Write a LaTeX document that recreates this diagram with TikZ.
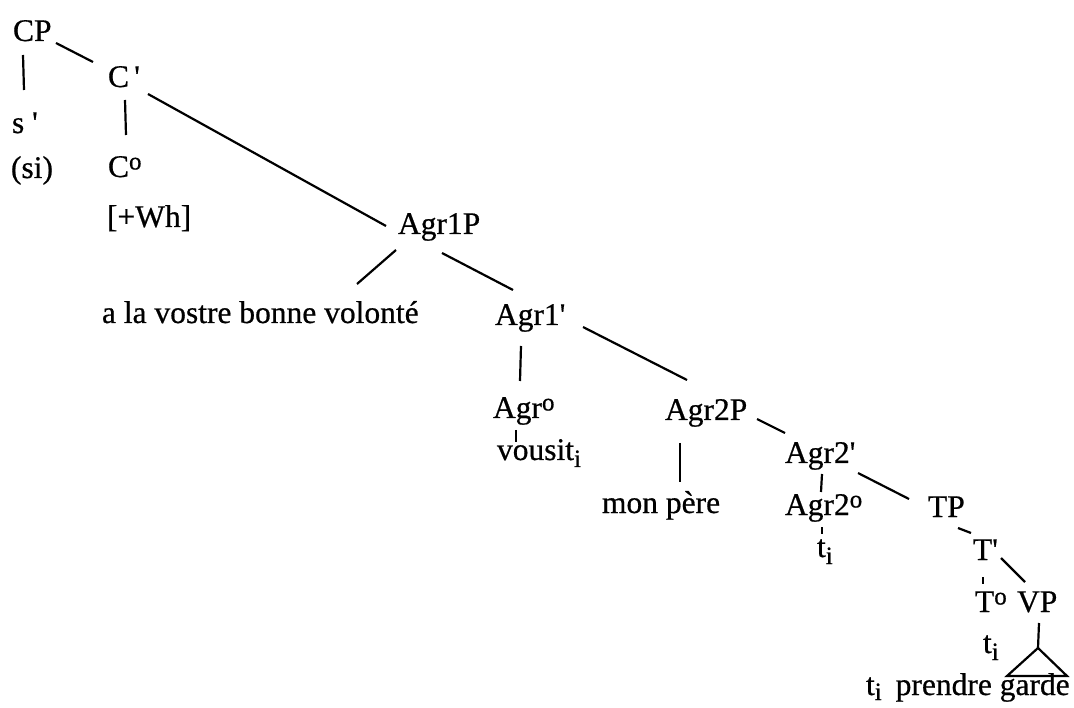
\documentclass[tikz,border=0pt]{standalone}
\usepackage{fontspec}
\setmainfont{Liberation Serif}
\newfontfamily\treefont{Liberation Serif}[Ligatures=NoCommon,FakeBold=0.6]
\newcommand\edgeAB[6]{\draw ([xshift=#2pt,yshift=#3pt]#1.base west) -- ([xshift=#5pt,yshift=#6pt]#4.base west);}
\newcommand\supo{\raisebox{7.5pt}{\fontsize{25}{25}\selectfont o}}
\newcommand\subi{\raisebox{-7pt}{\fontsize{25}{25}\selectfont i}}
\newcommand\subiB{\raisebox{-5pt}{\fontsize{25}{25}\selectfont i}}
\newcommand\apos{\textquotesingle}
\begin{document}
\begin{tikzpicture}[x=1pt,y=-1pt,
  lbl/.style={anchor=base west,inner sep=0pt,outer sep=0pt,font=\treefont\fontsize{31.5}{36}\selectfont},
  every path/.style={line width=2.2pt}]
\useasboundingbox (0,0) rectangle (1074,708);
\fill[white] (0,0) rectangle (1074,708);
% nodes
\node[lbl] (cp) at (13,41) {CP};
\node[lbl] (s) at (12,133) {s \apos};
\node[lbl] (si) at (11,178) {(si)};
\node[lbl] (cbar) at (108,87) {C\,\apos};
\node[lbl] (c0) at (108,177) {C\supo};
\node[lbl] (wh) at (107,227) {[+Wh]};
\node[lbl] (agr1p) at (398,234) {Agr1P};
\node[lbl] (bonne) at (102,323) {a la vostre bonne volonté};
\node[lbl] (agr1bar) at (495,325) {Agr1\apos};
\node[lbl] (agr0) at (493,418) {Agr\supo};
\node[lbl] (vousit) at (497,460) {vousit\subi};
\node[lbl] (agr2p) at (665,420) {Agr2P};
\node[lbl] (pere) at (602,513) {mon père};
\node[lbl] (agr2bar) at (785,463) {Agr2\apos};
\node[lbl] (agr20) at (785,515) {Agr2\supo};
\node[lbl] (ti1) at (817,557) {t\subi};
\node[lbl] (tp) at (928,517) {TP};
\node[lbl] (tbar) at (973,560) {T\apos};
\node[lbl] (t0) at (975,612) {T\supo};
\node[lbl] (vp) at (1017,612) {VP};
\node[lbl] (ti2) at (983,653) {t\subi};
\node[lbl] (garde) at (866,695) {t\subiB\hspace{14pt}prendre garde};
% triangle
\coordinate (tri) at (1038,648);
\coordinate (trl) at (1007,676);
\coordinate (trr) at (1067,676);
\draw[line join=miter] (tri) -- (trl) -- (trr) -- cycle;
% connectors
\edgeAB{cp}{10}{-14}{s}{12}{43}
\edgeAB{cp}{43}{-2}{cbar}{-15}{25}
\edgeAB{cbar}{17}{-13}{c0}{18}{42}
\edgeAB{cbar}{40}{-7}{agr1p}{-12}{8}
\edgeAB{agr1p}{-2}{-16}{bonne}{255}{39}
\edgeAB{agr1p}{44}{-19}{agr1bar}{18}{35}
\edgeAB{agr1bar}{26}{-21}{agr0}{27}{37}
\edgeAB{agr1bar}{88}{-2}{agr2p}{22}{40}
\edgeAB{agr0}{23}{-12}{vousit}{19}{18}
\edgeAB{agr2p}{15}{-23}{pere}{78}{31}
\edgeAB{agr2p}{92}{1}{agr2bar}{0}{30}
\edgeAB{agr2bar}{37}{-11}{agr20}{36}{23}
\edgeAB{agr2bar}{73}{-10}{tp}{-19}{18}
\draw[line width=1.3pt] ([xshift=37pt,yshift=-12pt]agr20.base west) -- ([xshift=5pt,yshift=23pt]ti1.base west);
\edgeAB{tp}{30}{-11}{tbar}{-2}{27}
\draw[line width=1.3pt] ([xshift=10pt,yshift=-17pt]tbar.base west) -- ([xshift=8pt,yshift=28pt]t0.base west);
\edgeAB{tbar}{28}{2}{vp}{8}{30}
\draw ([xshift=22pt,yshift=-11pt]vp.base west) -- (tri);
\end{tikzpicture}
\end{document}
